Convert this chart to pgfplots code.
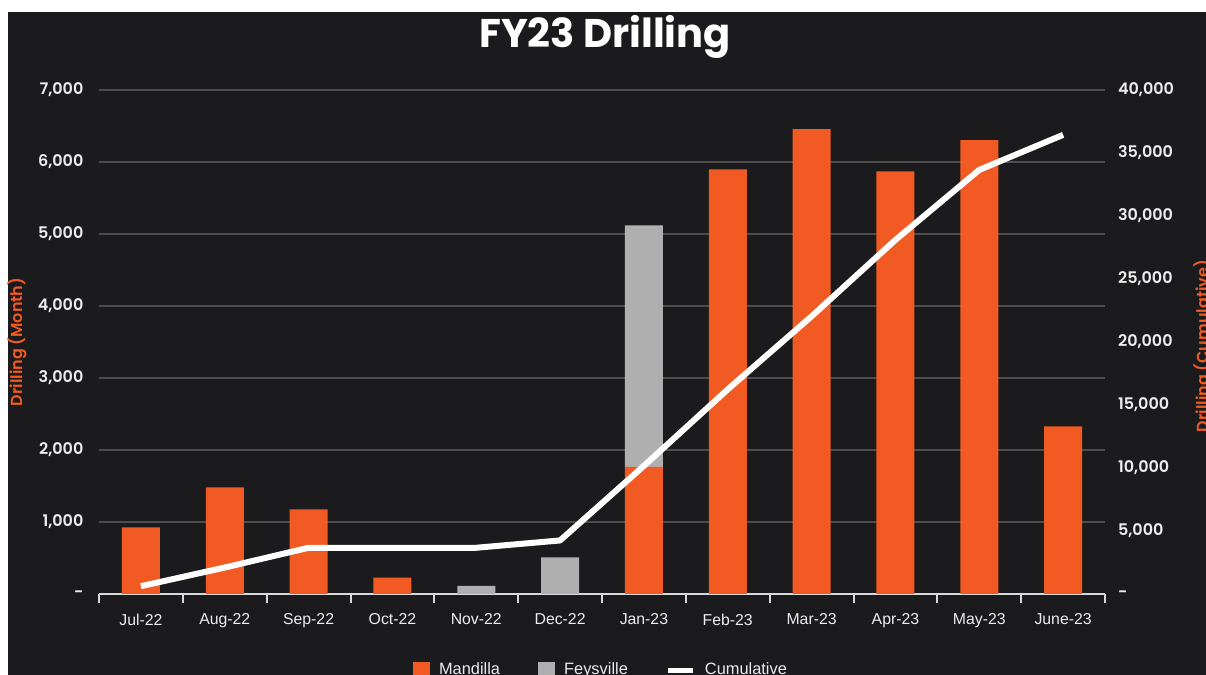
\documentclass[border=0pt]{standalone}
\usepackage{pgfplots}
\pgfplotsset{compat=1.18}
\usepackage{fontspec}
\setmainfont{Poppins}
\newfontfamily\popsb{Poppins SemiBold}
\newfontfamily\arial{Liberation Sans}
\definecolor{bg}{HTML}{1B1B1D}
\definecolor{mand}{HTML}{F15A22}
\definecolor{feys}{HTML}{AFAFAF}
\definecolor{gridc}{HTML}{4D4D4D}
\definecolor{txt}{HTML}{EDEDED}
\definecolor{axl}{HTML}{D9D9D9}
\begin{document}
\begin{tikzpicture}
\useasboundingbox (0,0) rectangle (603pt,337.5pt);
\fill[white] (0,0) rectangle (603pt,337.5pt);
\fill[bg] (4pt,0) rectangle (603pt,331.5pt);
\node[anchor=base, text=white, font=\bfseries\fontsize{20}{20}\selectfont] at (302.5pt,313.5pt) {FY23 Drilling};
\begin{axis}[
  at={(49.5pt,40.5pt)}, anchor=south west, scale only axis,
  width=503pt, height=252pt,
  xmin=-0.5, xmax=11.5, ymin=0, ymax=7000,
  ybar stacked, bar width=19pt,
  axis x line*=bottom, axis y line*=left,
  x axis line style={axl, line width=1pt, -},
  y axis line style={draw=none},
  xtick={0,...,11},
  xticklabels={Jul-22,Aug-22,Sep-22,Oct-22,Nov-22,Dec-22,Jan-23,Feb-23,Mar-23,Apr-23,May-23,June-23},
  major x tick style={draw=none},
  minor xtick={-0.5,0.5,...,11.5},
  minor x tick style={axl, line width=1pt},
  minor tick length=4.5pt,
  tick align=outside,
  xticklabel style={font=\arial\fontsize{7.9}{8}\selectfont, text=txt, yshift=-2pt},
  ytick={0,1000,...,7000},
  yticklabels={-,{1,000},{2,000},{3,000},{4,000},{5,000},{6,000},{7,000}},
  ytick style={draw=none},
  yticklabel style={font=\popsb\fontsize{8}{8}\selectfont, text=txt},
  ymajorgrids, major grid style={gridc, line width=0.6pt},
  ylabel={Drilling (Month)},
  every axis y label/.style={at={(axis description cs:-0.0815,0.5)}, rotate=90, anchor=center, font=\popsb\fontsize{8}{8}\selectfont, text=mand},
  legend style={at={(axis description cs:0.5,-0.12)}, anchor=north, legend columns=3, draw=none, fill=none, text=txt, font=\arial\fontsize{8.2}{8}\selectfont,
    /tikz/every odd column/.append style={column sep=2.5pt},
    /tikz/every even column/.append style={column sep=17pt}},
  legend cell align=left,
]
\addplot[fill=mand, draw=none, area legend,
  legend image code/.code={\fill[mand] (-2pt,-4.25pt) rectangle (6.5pt,4.25pt);}]
  coordinates {(0,925) (1,1480) (2,1177) (3,228) (4,0) (5,0) (6,1764) (7,5898) (8,6457) (9,5870) (10,6304) (11,2327)};
\addlegendentry{Mandilla}
\addplot[fill=feys, draw=none, area legend,
  legend image code/.code={\fill[feys] (-2pt,-4.25pt) rectangle (6.5pt,4.25pt);}]
  coordinates {(0,0) (1,0) (2,0) (3,0) (4,112) (5,508) (6,3356) (7,0) (8,0) (9,0) (10,0) (11,0)};
\addlegendentry{Feysville}
\addlegendimage{legend image code/.code={\draw[white, line width=2.5pt] (-2pt,0pt) -- (10.5pt,0pt);}}
\addlegendentry{Cumulative}
\end{axis}
\begin{axis}[
  at={(49.5pt,40.5pt)}, anchor=south west, scale only axis,
  width=503pt, height=252pt,
  xmin=-0.5, xmax=11.5, ymin=0, ymax=40000,
  axis x line=none, axis y line*=right,
  y axis line style={draw=none},
  scaled y ticks=false,
  ytick={0,5000,...,40000},
  yticklabels={-,{5,000},{10,000},{15,000},{20,000},{25,000},{30,000},{35,000},{40,000}},
  ytick style={draw=none},
  yticklabel style={font=\popsb\fontsize{8}{8}\selectfont, text=txt, xshift=3pt},
  ylabel={Drilling (Cumulative)},
  every axis y label/.style={at={(axis description cs:1.0974,0.492)}, rotate=90, anchor=center, font=\popsb\fontsize{8}{8}\selectfont, text=mand},
]
\addplot[white, line width=3pt, line join=round]
  coordinates {(0,620) (1,2100) (2,3670) (3,3670) (4,3670) (5,4250) (6,10170) (7,16240) (8,22040) (9,28100) (10,33660) (11,36440)};
\end{axis}
\end{tikzpicture}
\end{document}
